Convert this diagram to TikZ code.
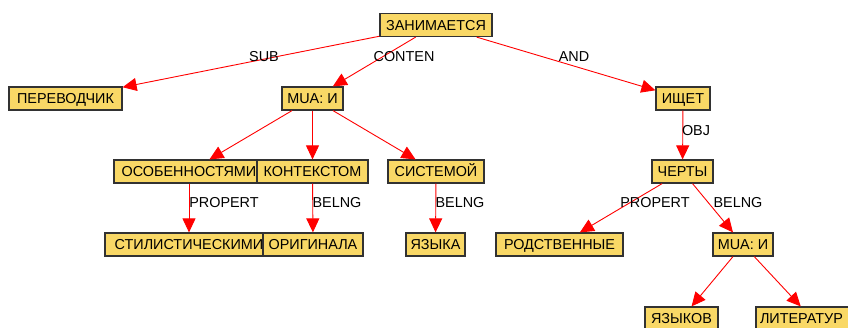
\documentclass[tikz,border=0pt]{standalone}
\usepackage{fontspec}
\setmainfont{Liberation Sans}
\usetikzlibrary{arrows.meta}
\definecolor{nodeyellow}{RGB}{249,216,102}
\definecolor{boxline}{RGB}{50,50,50}
\tikzset{
  wbox/.style={draw=boxline, line width=1.2pt, fill=nodeyellow, rectangle,
    minimum height=23pt, text height=10.3pt, text depth=0pt, inner xsep=0pt,
    font=\fontsize{14.4}{16}\selectfont},
  rel/.style={draw=red, line width=0.9pt, -{Triangle[length=14pt,width=13pt]}},
  lbl/.style={inner sep=0pt, text height=10.3pt, text depth=0pt,
    font=\fontsize{14.4}{16}\selectfont}
}
\begin{document}
\begin{tikzpicture}[x=1pt,y=-1pt]
\useasboundingbox (0,0) rectangle (848,327);
\clip (0,0) rectangle (848,327);
\fill[white] (0,0) rectangle (848,327);
% nodes
\node[wbox, minimum width=112pt] (zan) at (436,25) {ЗАНИМАЕТСЯ};
\node[wbox, minimum width=113pt] (per) at (65.5,98.5) {ПЕРЕВОДЧИК};
\node[wbox, minimum width=61pt] (mua1) at (312.5,98.5) {MUA: И};
\node[wbox, minimum width=54pt] (ish) at (683,98.5) {ИЩЕТ};
\node[wbox, minimum width=150pt] (oso) at (189,171.5) {ОСОБЕННОСТЯМИ};
\node[wbox, minimum width=168pt] (sti) at (189,244.5) {СТИЛИСТИЧЕСКИМИ};
\node[wbox, minimum width=111pt] (kon) at (312.5,171.5) {КОНТЕКСТОМ};
\node[wbox, minimum width=100pt] (ori) at (313,244.5) {ОРИГИНАЛА};
\node[wbox, minimum width=96pt] (sis) at (436,171.5) {СИСТЕМОЙ};
\node[wbox, minimum width=59pt] (yaz) at (435.5,244.5) {ЯЗЫКА};
\node[wbox, minimum width=61pt] (che) at (682.5,171.5) {ЧЕРТЫ};
\node[wbox, minimum width=127pt] (rod) at (559.5,244.5) {РОДСТВЕННЫЕ};
\node[wbox, minimum width=60pt] (mua2) at (743,244.5) {MUA: И};
\node[wbox, minimum width=73pt] (yzk) at (681.5,318.5) {ЯЗЫКОВ};
\node[wbox, text width=104pt, align=left, inner xsep=4pt] (lit) at (812,318.5) {ЛИТЕРАТУР};
% connectors
\draw[rel] (zan) -- (per);
\draw[rel] (zan) -- (mua1);
\draw[rel] (zan) -- (ish);
\draw[rel] (mua1) -- (oso);
\draw[rel] (mua1) -- (kon);
\draw[rel] (mua1) -- (sis);
\draw[rel] (oso) -- (sti);
\draw[rel] (kon) -- (ori);
\draw[rel] (sis) -- (yaz);
\draw[rel] (ish) -- (che);
\draw[rel] (che) -- (rod);
\draw[rel] (che) -- (mua2);
\draw[rel] (mua2) -- (yzk);
\draw[rel] (mua2) -- (lit);
% labels
\node[lbl] (l1) at (264,56) {SUB};
\node[lbl] (l2) at (404,56) {CONTEN};
\node[lbl] (l3) at (574,56) {AND};
\node[lbl] (l4) at (696,130) {OBJ};
\node[lbl] (l5) at (224,202) {PROPERT};
\node[lbl] (l6) at (337,202) {BELNG};
\node[lbl] (l7) at (460,202) {BELNG};
\node[lbl] (l8) at (655,202) {PROPERT};
\node[lbl] (l9) at (738,202) {BELNG};
\end{tikzpicture}
\end{document}
